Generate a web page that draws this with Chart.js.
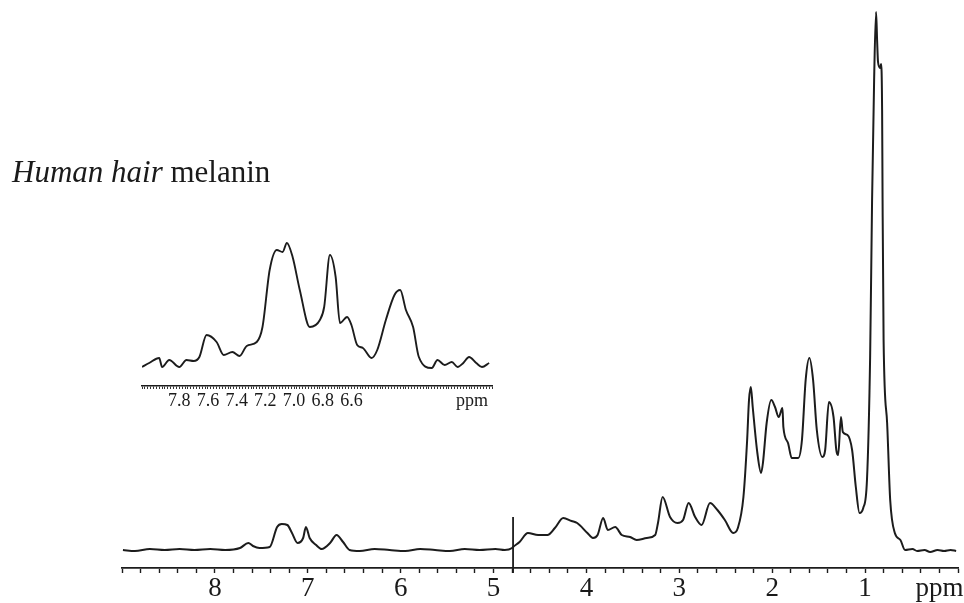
<!DOCTYPE html>
<html><head><meta charset="utf-8">
<script src="https://cdn.jsdelivr.net/npm/chart.js@4.4.1/dist/chart.umd.min.js"></script>
<style>
html,body{margin:0;padding:0;background:#fff;}
#wrap{position:relative;width:964px;height:603px;overflow:hidden;background:#fff;}
#wrap canvas{position:absolute;left:0;top:0;}
#title{position:absolute;left:12px;top:156px;font-family:"Liberation Serif","Times New Roman",serif;font-size:31px;line-height:31px;color:#1a1a1a;white-space:nowrap;}
</style></head><body>
<div id="wrap">
<canvas id="main" width="964" height="603"></canvas>
<canvas id="inset" width="964" height="603"></canvas>
<div id="title"><i>Human hair</i> melanin</div>
</div>
<script>
// ---- main spectrum (chemical shift in ppm, relative intensity) ----
const mainPpm = [8.99,8.86,8.70,8.54,8.38,8.22,8.05,7.89,7.73,7.64,7.59,7.52,7.41,7.33,7.28,7.22,7.17,7.11,7.05,7.02,6.98,6.91,6.85,6.76,6.69,6.62,6.55,6.44,6.28,6.12,5.95,5.79,5.63,5.47,5.31,5.15,4.98,4.88,4.80,4.79,4.72,4.63,4.52,4.42,4.34,4.25,4.16,4.10,3.99,3.93,3.88,3.82,3.77,3.69,3.62,3.53,3.46,3.35,3.26,3.23,3.18,3.10,3.02,2.96,2.90,2.83,2.76,2.67,2.59,2.51,2.42,2.37,2.31,2.27,2.25,2.23,2.21,2.16,2.12,2.10,2.06,2.01,1.97,1.93,1.89,1.88,1.83,1.79,1.72,1.68,1.64,1.60,1.56,1.52,1.46,1.43,1.39,1.34,1.31,1.29,1.26,1.24,1.19,1.14,1.10,1.06,1.02,0.98,0.946,0.925,0.903,0.882,0.871,0.861,0.838,0.828,0.817,0.812,0.801,0.763,0.73,0.68,0.62,0.57,0.49,0.44,0.36,0.30,0.22,0.15,0.08,0.02];
const mainIntensity = [1,0,2,1,2,1,2,1,3,8,5,3,4,24,27,26,18,8,13,24,13,6,2,8,16,9,1,0,2,1,0,2,1,0,2,1,2,1,3,4,9,18,16,16,23,33,30,28,18,13,16,33,21,24,16,14,11,13,16,28,54,34,28,31,48,34,26,48,41,31,18,23,54,111,151,164,144,98,78,88,128,151,144,134,143,124,108,93,93,111,171,193,171,121,94,101,149,134,101,96,134,119,116,101,64,38,43,71,194,351,471,539,511,489,483,487,441,351,211,128,51,18,11,1,2,0,1,-1,1,0,1,0];
// solvent (HDO) marker line
const waterLinePpm = [4.79, 4.79];
const waterLineIntensity = [34, -22];
// ---- inset: aromatic region ----
const insetPpm = [8.06,8.01,7.94,7.92,7.87,7.80,7.75,7.70,7.66,7.61,7.54,7.49,7.43,7.38,7.33,7.26,7.22,7.17,7.12,7.08,7.05,7.01,6.96,6.89,6.82,6.79,6.75,6.71,6.68,6.63,6.60,6.56,6.52,6.46,6.42,6.36,6.30,6.26,6.22,6.17,6.13,6.04,6.00,5.95,5.90,5.86,5.82,5.78,5.73,5.69,5.64];
const insetIntensity = [0,4,9,0,7,0,7,6,10,32,25,12,15,11,21,25,40,97,117,115,124,110,77,40,47,60,112,90,44,50,42,22,19,9,17,47,72,77,57,40,10,-1,7,2,5,0,4,10,4,0,4];
// ---- tick labels ----
const mainTickLabels = [8,7,6,5,4,3,2,1];
const mainUnitAt = 0.2;
const insetTickLabels = [7.8,7.6,7.4,7.2,7.0,6.8,6.6];
const insetUnitAt = 5.76;
const unitLabel = 'ppm';

const ink = '#1c1c1c';
const serif = '"Liberation Serif","Times New Roman",serif';
const toXY = (xs, ys) => xs.map((x, i) => ({x: x, y: ys[i]}));
const near = (a, b) => Math.abs(a - b) < 1e-6;

new Chart(document.getElementById('main'), {
  type: 'line',
  data: {datasets: [
    {data: toXY(mainPpm, mainIntensity), borderColor: ink, borderWidth: 2, pointRadius: 0, cubicInterpolationMode: 'monotone', fill: false},
    {data: toXY(waterLinePpm, waterLineIntensity), borderColor: ink, borderWidth: 1.8, pointRadius: 0, tension: 0, clip: false, fill: false}
  ]},
  options: {
    responsive: false, animation: false, events: [],
    layout: {padding: {left: 122, right: 6, top: 0, bottom: 0}},
    plugins: {legend: {display: false}, tooltip: {enabled: false}, title: {display: false}},
    scales: {
      x: {
        type: 'linear', min: 0, max: 9, reverse: true,
        afterFit: s => { s.height = 35; },
        border: {display: true, color: ink, width: 1.8},
        grid: {drawOnChartArea: false, drawTicks: true, tickLength: 5, color: ink, tickColor: ink, tickWidth: 1.4},
        ticks: {
          stepSize: 0.2, maxTicksLimit: 1000, autoSkip: false, maxRotation: 0, padding: 0,
          color: '#1a1a1a', font: {family: serif, size: 27},
          callback: v => {
            if (Math.abs(v - mainUnitAt) < 1e-6) return unitLabel;
            const hit = mainTickLabels.find(t => near(t, v));
            return hit !== undefined ? String(hit) : '';
          }
        }
      },
      y: {display: false, min: -17, max: 551}
    }
  }
});

new Chart(document.getElementById('inset'), {
  type: 'line',
  data: {datasets: [
    {data: toXY(insetPpm, insetIntensity), borderColor: ink, borderWidth: 1.9, pointRadius: 0, cubicInterpolationMode: 'monotone', fill: false}
  ]},
  options: {
    responsive: false, animation: false, events: [],
    layout: {padding: {left: 142, right: 472, top: 230, bottom: 192}},
    plugins: {legend: {display: false}, tooltip: {enabled: false}, title: {display: false}},
    scales: {
      x: {
        type: 'linear', min: 5.62, max: 8.06, reverse: true,
        afterFit: s => { s.height = 25; },
        border: {display: true, color: ink, width: 1.6},
        grid: {drawOnChartArea: false, drawTicks: true, tickLength: 3, color: ink, tickColor: '#333', tickWidth: 1},
        ticks: {
          stepSize: 0.02, maxTicksLimit: 1000, autoSkip: false, maxRotation: 0, padding: 1,
          color: '#1a1a1a', font: {family: serif, size: 18},
          callback: v => {
            if (Math.abs(v - insetUnitAt) < 1e-6) return unitLabel;
            const hit = insetTickLabels.find(t => Math.abs(t - v) < 1e-6);
            return hit !== undefined ? hit.toFixed(1) : '';
          }
        }
      },
      y: {display: false, min: -19, max: 137}
    }
  }
});
</script>
</body></html>
